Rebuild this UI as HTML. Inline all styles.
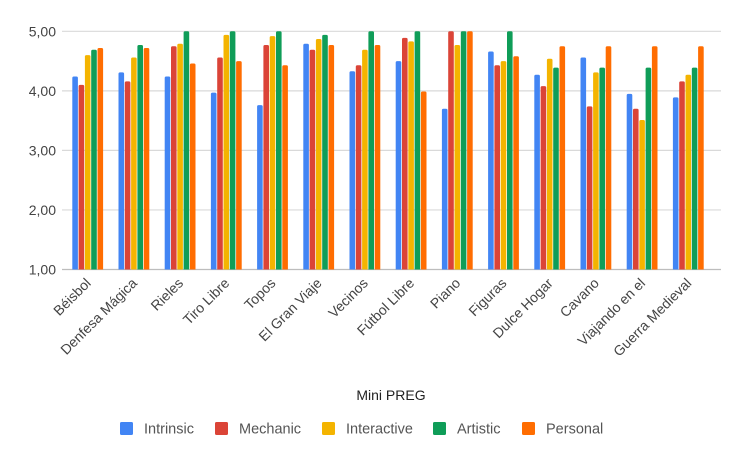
<!DOCTYPE html>
<html><head><meta charset="utf-8"><style>
body{margin:0;background:#fff;font-family:"Liberation Sans",Arial,sans-serif}
svg text{font-family:"Liberation Sans",Arial,sans-serif}
</style></head><body>
<svg id="chart" width="741" height="457"></svg>
<script>
const categories=["Béisbol","Denfesa Mágica","Rieles","Tiro Libre","Topos","El Gran Viaje","Vecinos","Fútbol Libre","Piano","Figuras","Dulce Hogar","Cavano","Viajando en el","Guerra Medieval"];
const seriesNames=["Intrinsic","Mechanic","Interactive","Artistic","Personal"];
const seriesColors=["#4285f4","#db4437","#f4b400","#0f9d58","#ff6d01"];
const intrinsic=[4.24,4.31,4.24,3.97,3.76,4.79,4.33,4.50,3.70,4.66,4.27,4.56,3.95,3.89];
const mechanic=[4.10,4.16,4.75,4.56,4.77,4.69,4.43,4.89,5.00,4.43,4.08,3.74,3.70,4.16];
const interactive=[4.60,4.56,4.79,4.94,4.92,4.87,4.69,4.83,4.77,4.50,4.54,4.31,3.51,4.27];
const artistic=[4.69,4.77,5.00,5.00,5.00,4.94,5.00,5.00,5.00,5.00,4.39,4.39,4.39,4.39];
const personal=[4.72,4.72,4.46,4.50,4.43,4.77,4.77,3.99,5.00,4.58,4.75,4.75,4.75,4.75];
const yTicks=[1,2,3,4,5];
const yTickLabels=["1,00","2,00","3,00","4,00","5,00"];

const series=[intrinsic,mechanic,interactive,artistic,personal];
const NS="http://www.w3.org/2000/svg";
const svg=document.getElementById('chart');
const plotL=64.6, groupW=46.2, yMin=1, yMax=5, yBottom=269.5, yTop=31.3;
function y(v){return yBottom-(v-yMin)/(yMax-yMin)*(yBottom-yTop);}
function xGroup(i){return plotL+groupW*(i+0.5);}
function mk(tag,attrs,parent){const e=document.createElementNS(NS,tag);for(const k in attrs)e.setAttribute(k,attrs[k]);(parent||svg).appendChild(e);return e;}

yTicks.forEach((t,i)=>{
  const g=mk('line',{x1:62,x2:721,y1:y(t),y2:y(t),stroke:i===0?'#bdbdbd':'#d9d9d9','stroke-width':1.2});
  
  
  const l=mk('text',{x:56,y:y(t)+5,'text-anchor':'end','font-size':14,fill:'#444'});
  l.textContent=yTickLabels[i];
  
  
});

const bw=5.6, step=6.3;
categories.forEach((c,i)=>{
  const cx=xGroup(i);
  series.forEach((s,j)=>{
    const v=s[i];
    const bx=cx+(j-2)*step-bw/2;
    const top=y(v), h=yBottom-top;
    const p=mk('path',{d:`M${bx},${yBottom}V${top+1.5}Q${bx},${top} ${bx+1.5},${top}H${bx+bw-1.5}Q${bx+bw},${top} ${bx+bw},${top+1.5}V${yBottom}Z`,fill:seriesColors[j]});
    
    
  });
  const t=mk('text',{x:cx+4,y:284,'text-anchor':'end','font-size':14,fill:'#444',transform:`rotate(-45 ${cx+4} 284)`});
  t.textContent=c;
  
  
});

const at=mk('text',{x:391,y:400,'text-anchor':'middle','font-size':14,fill:'#222'});
at.textContent='Mini PREG';



const legX=[120,215,322,433,522];
seriesNames.forEach((n,j)=>{
  const g=mk('g',{});
  
  
  mk('rect',{x:legX[j],y:422,width:13,height:13,rx:1.5,fill:seriesColors[j]},g);
  const t=mk('text',{x:legX[j]+24,y:433.5,'font-size':14.5,fill:'#555'},g);
  t.textContent=n;
});
</script>
</body></html>
